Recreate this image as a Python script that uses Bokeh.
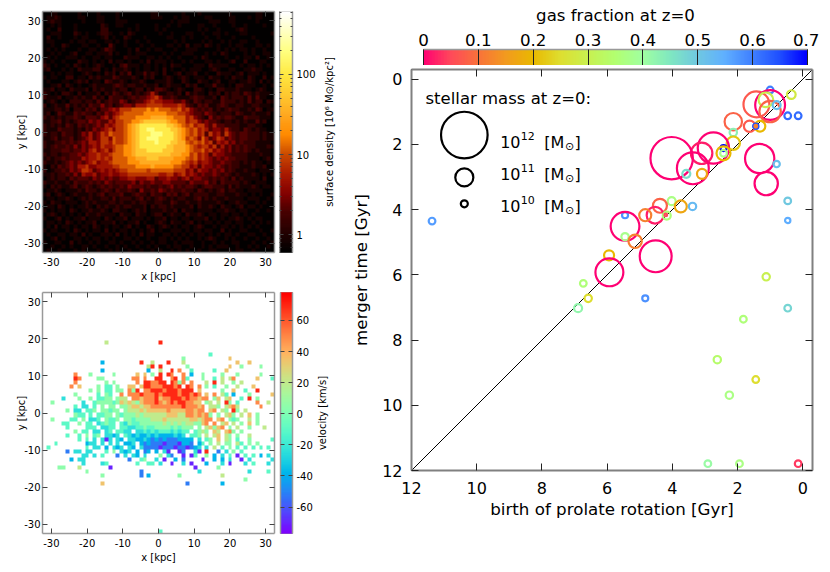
import numpy as np
from bokeh.plotting import figure
from bokeh.layouts import row, column
from bokeh.models import (Range1d, LinearAxis, LogAxis, FixedTicker, LinearColorMapper, LogColorMapper,
                          ColumnDataSource)
from bokeh.core.properties import value
from bokeh.embed import file_html
from bokeh.resources import INLINE

FONT = "DejaVu Sans"

# ---- data: surface density map (top row first; one code per cell) ----
DENSITY_LEVELS = [0.62, 0.9, 1.4, 2.1, 3.2, 5, 8, 12, 20, 33, 55, 110, 200]
DENSITY_ROWS = [
"001100000100001000010000000011000000100010000000100000011000",
"011210000110001100010000000011100010110000110000110001011000",
"012110000010001100011100000000000101110000011100110000010000",
"001010001000000210011000100001001001000011001000010010000100",
"010020001000000220000010100001010000000010100100001210000000",
"001110002101001221001021000000100100011001001101000110000001",
"020010001011000120100210001000001100101000100100010000100000",
"011000010110110011010100100100000010100001010010100110010000",
"001002100011001003100100010010001101020110210100101100011010",
"010101000100110132100010200101100010011100000101010110100100",
"001010012001101112010010111000010100111000101021000010100110",
"010100111010011011000211100110101001000102100001001011020010",
"101001000211010102011010010201110100101000110100120020001100",
"210100102101012100102311101101010211000111021111000101101010",
"120001010211122010211210101101020100101110012100110011211000",
"001010110012101021202130113121020012011200100211101201110100",
"101100220110212111321112102120012101210111021101021102100201",
"010001101212011032112101121001112100210021101200110112102010",
"001120210100121111232122112112012111021200113110102211100101",
"112011021112021211212201220213321012100221010221112111012100",
"210102210201112021321231212353112212031211021202122132121110",
"211120112121131203222123233456422321112322112032122213131100",
"012101022212213123224312334565544433421321221132221213122021",
"201211312121322423123443555666655556532132311232112211221110",
"1112212022132313" "3454" "6667777878777667" "5643232312123221" "12132011",
"1201321132322132" "4345" "6777778888887776" "6543324321222132" "11211120",
"2121212232133324" "5356" "7777888899998877" "7564321423233211" "32221110",
"1122312123324343" "3546" "677889aaaaaa9887" "7566434332122121" "21131200",
"2121213213232343" "5456" "6789abbbbbbbaa98" "7675664353322221" "12211000",
"2111322212132434" "5646" "6789abbccbbbbaa9" "8767565344353221" "32121100",
"2122132212435346" "5766" "6789abbbcccbbba9" "8767563645364323" "32221211",
"1123122312345346" "6476" "6789abbcccbbbba9" "8676475346534323" "32221211",
"2112232323435546" "6576" "6789abbbbcbbbaa9" "9767675635453423" "22211110",
"2123223242434546" "5567" "7889abbbbbbbaa99" "9876566463534232" "32211121",
"1122233233435645" "6467" "7889aaabbbbaaa99" "9876675645434232" "32121110",
"2122122334345565" "5677" "7889aaaaaaaaa999" "8867565354433222" "21112110",
"1212232333545565" "6577" "7788999aaa999988" "8767565434343322" "21110120",
"2112123434345645" "5677" "7788899999999888" "7656455433433221" "21211010",
"1021323435564455" "5566" "7777888898888877" "6645354434323221" "11211200",
"2012232434665345" "4545" "6677777677777766" "6453544343423211" "21101110",
"1121223242544534" "4544" "5566666666556645" "6454343343232121" "11210101",
"0121221323332434" "3433" "4455444553445443" "4534433232321312" "11110200",
"2112112132223232" "4323" "3334243343344333" "3243334231322221" "21011100",
"1021211231232123" "2322" "3243332322323423" "2332123322213121" "11210110",
"0112101112132212" "3213" "2232142232432322" "3221321212312211" "01111000",
"1201210121112123" "1222" "3112322132213231" "2312222112211121" "10101001",
"0110112101212112" "2131" "2221231212321212" "2112312121121111" "01110010",
"1021101110121211" "1221" "2112122112211321" "1211211112101121" "10010100",
"0110210101121021" "2112" "1221112021221211" "1120211210211012" "01101000",
"1010110210112112" "1022" "1101212011121120" "2110111101121101" "10010010",
"0121010101021121" "1110" "2110211012201211" "0211210110110110" "10100000",
"1001201011201110" "2101" "1201110101120110" "1101112010101121" "01011000",
"0110102101011201" "1120" "1011201001210211" "0120101101011011" "00101010",
"0102011010110210" "1011" "0120100210121010" "1101210010110101" "01010000",
"1011001021010110" "2010" "1101010120100111" "0101101100201001" "10001001",
"0100110110201001" "1102" "0101020110011010" "1010110101011010" "01100100",
"0012010011010110" "1010" "0110100100110101" "0100101210010100" "10010010",
"1001100201001010" "0110" "1001010010110010" "1110010010100110" "00100101",
"0010010100110100" "1001" "0100100101001011" "0010010101110010" "01010010",
"0100100010100010" "0101" "0010010010100101" "0100100110001011" "00100000",
]

# ---- data: velocity map (top row first; '.' = empty cell) ----
VELOCITY_LEVELS = [-70, -52, -38, -24, -10, 5, 20, 35, 50, 70]
VELOCITY_ROWS = {
12: "................6.............9",
15: "...........................................4",
16: "....................................5...........7",
17: "...............2.........9..6...9...6.............7..7",
18: "...........................69.9......5..........7..5....5",
19: "...............2...........2..6..9.8..4.....4..7...........",
20: "........8...5.....5.....7.7.5.9.98..8.2..5....5...5.....5..",
21: "........98....55.......88.8..99..89.84...5..4.6.68.....7...4",
22: "........8.......5.5.....8.998899.9858.8...6.9.6..5.6........",
23: ".......8.7....5.44.5..77.79988899989.98.8.5.4..5..6...7...",
24: "............5.5.44.55.859.8899989998999.7.....5..7..4..9....",
25: "........5.....4.54..8.8889888989999899898.7.8.64.2...5.....7",
26: ".....3...5..5.4455.566.88788897889998988788.57.67..4.9.5.....",
27: "..5.......3..4555545767657888987898998877.56.6.95.4....8..6...",
28: "........4.33.4.5.55.5567767788888888988878.665.6786.....8....",
29: "......5.33.445.55455.566676777778777788788.78.65.95.6........",
30: "........544.4.4455.5455565666666777668878785.5.675.6.7.5.....",
31: "..5....44.5.334.5445.55455556667666666776788.78.545..6.5.....",
32: ".....44..5.44.34544.43544555555656565665578.8.67.6.5.7.5.....",
33: "......4....444.3344.4433445445555454555.5.67578.5.6..5...6...",
34: "........5.44.33.34.4433.33434344434344.4565.76.785.5........",
35: "......4..4.5.45.3323.4323223232222323.445.6.67.65.5..6......",
36: ".........4.4.3.303.32.33223212121112222.3.45.7.65.4..5.....4.",
37: "...4.......233.3.3.3.223.21211101110221.24.5.6.55.64.5.5.....",
38: ".4.........4.33.2.323.32.3111101110110123.3.6.4.5.4.4.4.4.4..",
39: "......1.33.33...4.5.323.2.12.2.30..01..30.9..1.3.5.4....",
40: "..........33.3.4...1.3.32.3...5.31..0.04..5.2.3.4.0.4.4.2.3...",
41: ".......2.33...........1..45..3.0..2.1....0..2.2.3..0.3.....3.",
42: "..........3....34.......4..44.3..0..3.0...2...3.0...3.4...3...",
43: "....55...6.......0.....................0.....5",
44: "...........5.............1..............3............3....4",
45: "...............5.........1.2.......5..........6",
46: "....................................................5",
47: "...............7.....................1........2",
59: "..............................4",
}

# ---- data: galaxies of the right panel ----
birth = [1.00, 0.35, 1.42, 1.00, 1.13, 1.00, 0.80, 0.46, 0.14, 2.13, 1.63, 1.31, 1.44, 1.44, 2.13, 2.13, 2.74, 3.10,
         2.43, 2.43, 2.43, 4.02, 3.37, 3.57, 3.09, 1.32, 0.80, 1.12, 0.46, 0.46, 11.37, 4.02, 4.38, 3.74, 3.38, 4.53,
         4.83, 4.17, 4.20, 5.45, 5.45, 5.45, 5.14, 4.51, 5.94, 5.93, 1.12, 6.73, 6.58, 4.83, 6.89, 0.46, 1.82, 2.62,
         1.44, 2.25, 2.91, 1.94, 0.14]
merger = [0.33, 0.47, 0.77, 0.79, 0.63, 0.99, 0.79, 1.12, 1.12, 1.30, 1.44, 1.44, 1.44, 1.44, 1.63, 1.96, 2.11, 2.27,
          2.11, 2.27, 2.27, 2.42, 2.73, 2.90, 2.90, 2.43, 2.60, 3.20, 3.73, 4.33, 4.35, 3.74, 3.88, 3.90, 3.90, 4.17,
          4.17, 4.18, 4.16, 4.17, 4.51, 4.83, 4.97, 5.43, 5.40, 5.92, 6.06, 6.26, 6.72, 6.72, 7.02, 7.02, 7.36, 8.60,
          9.21, 9.69, 11.79, 11.79, 11.79]
log_mass = [9.95, 10.23, 11.38, 11.53, 10.78, 11.18, 10.14, 9.95, 9.95, 10.96, 10.51, 10.44, 9.71, 8.98, 10.05, 10.68,
            11.58, 11.18, 9.84, 9.95, 10.73, 11.90, 11.60, 10.14, 10.38, 11.51, 9.90, 11.27, 9.95, 9.71, 9.95, 10.14,
            10.73, 10.57, 10.05, 10.92, 10.57, 10.14, 9.00, 9.84, 11.49, 10.05, 10.68, 11.60, 10.38, 11.46, 10.05,
            9.95, 10.05, 9.84, 10.14, 9.95, 9.95, 10.05, 9.95, 10.05, 9.95, 9.95, 9.95]
gas = [0.60, 0.28, 0.07, 0.00, 0.30, 0.08, 0.52, 0.62, 0.62, 0.08, 0.07, 0.20, 0.65, 0.12, 0.43, 0.22, 0.00, 0.02,
       0.70, 0.38, 0.20, 0.00, 0.00, 0.47, 0.17, 0.00, 0.52, 0.00, 0.50, 0.55, 0.57, 0.37, 0.08, 0.17, 0.53, 0.02,
       0.12, 0.36, 0.05, 0.58, 0.00, 0.38, 0.12, 0.00, 0.20, 0.00, 0.30, 0.36, 0.25, 0.58, 0.42, 0.48, 0.36, 0.34,
       0.25, 0.37, 0.41, 0.37, 0.04]
legend_log_mass = [12, 11, 10]

kpc_ticks = [-30, -20, -10, 0, 10, 20, 30]
gyr_ticks = [0, 2, 4, 6, 8, 10, 12]
gas_ticks = [0, 0.1, 0.2, 0.3, 0.4, 0.5, 0.6, 0.7]
velocity_ticks = [-60, -40, -20, 0, 20, 40, 60]
density_ticks = [1, 10, 100]
density_minor = [0.7, 0.8, 0.9, 2, 3, 4, 5, 6, 7, 8, 9, 20, 30, 40, 50, 60, 70, 80, 90, 200, 300, 400, 500, 600]

# ---- colour scales ----
def hex_rgb(h):
    return [int(h[i:i+2], 16) for i in (1, 3, 5)]

def make_palette(pos, cols, n=256):
    arr = np.array([hex_rgb(c) for c in cols], float)
    t = np.linspace(pos[0], pos[-1], n)
    out = np.stack([np.interp(t, pos, arr[:, i]) for i in range(3)], 1).round().astype(int)
    return ["#%02x%02x%02x" % tuple(c) for c in out]

DENS_LOW, DENS_HIGH = 0.6, 610
dens_palette = make_palette(
    [-0.222, 0.0, 0.3, 0.5, 0.75, 1.0, 1.25, 1.5, 2.0, 2.3, 2.785],
    ["#000000", "#200000", "#4a0000", "#800000", "#a81800", "#c84800", "#ff8a00", "#ffa820", "#ffe840", "#ffff80", "#ffffff"])
VEL_LOW, VEL_HIGH = -77, 78
_t = np.linspace(0, 1, 256)
vel_palette = ["#%02x%02x%02x" % (min(255, int(255*abs(2*x-0.5))), int(255*np.sin(np.pi*x)), int(255*max(0, np.cos(np.pi*x/2))))
               for x in _t]
gas_palette = make_palette(
    [0, .05, .1, .15, .2, .25, .3, .35, .4, .45, .5, .55, .6, .65, .7],
    ["#ff0073", "#ff4a5a", "#f9723a", "#f29a1f", "#e9b800", "#dede30", "#c8f050", "#b2ff70", "#a0ffa0",
     "#80e8c0", "#70c8e0", "#60b0ff", "#4080ff", "#2050ff", "#0000ff"])

# ---- style helpers ----
def style_axis(ax, tick_len=5, label_px="10px", line="#999999", tick="#444444", line_w=1.5):
    ax.axis_line_color = line
    ax.axis_line_width = line_w
    ax.major_tick_line_color = tick
    ax.major_tick_in = tick_len
    ax.major_tick_out = 0
    ax.minor_tick_line_color = None
    ax.major_label_text_font = FONT
    ax.major_label_text_font_size = label_px
    ax.major_label_text_color = "#000000"
    ax.axis_label_text_font = FONT
    ax.axis_label_text_font_style = "normal"
    ax.axis_label_text_color = "#000000"

def mute_axis(ax):
    ax.major_label_text_font_size = "1px"
    ax.major_label_text_color = None
    ax.major_label_standoff = 0
    ax.axis_label = None

def base_fig(w, h, top, bottom, left, right, xr, yr, **kw):
    return figure(frame_width=w, frame_height=h, width=w + left + right, height=h + top + bottom,
                  min_border_top=top, min_border_bottom=bottom, min_border_left=left, min_border_right=right,
                  x_range=xr, y_range=yr, output_backend="svg", toolbar_location=None, frame_align=False,
                  background_fill_color="white", outline_line_color=None, tools="", **kw)

HYPHEN = {t: str(t) for t in kpc_ticks}

def map_panel(top, bottom, xlabel="x [kpc]", ylabel="y [kpc]", tick_len=5):
    p = base_fig(232, 241, top, bottom, 42, 5, Range1d(-32.5, 32.5), Range1d(-32.5, 32.5))
    p.grid.visible = False
    ticker = FixedTicker(ticks=kpc_ticks)
    for ax in (p.xaxis[0], p.yaxis[0]):
        style_axis(ax, tick_len)
        ax.ticker = ticker
        ax.major_label_overrides = HYPHEN
        ax.axis_label_text_font_size = "10px"
        ax.major_label_standoff = 2
    p.xaxis[0].major_label_standoff = 5
    p.xaxis[0].axis_label = xlabel
    p.yaxis[0].axis_label = ylabel
    p.xaxis[0].axis_label_standoff = 2
    p.yaxis[0].axis_label_standoff = -6
    for side in ("right", "above"):
        a = LinearAxis(ticker=ticker)
        style_axis(a, tick_len)
        mute_axis(a)
        p.add_layout(a, side)
    return p

def label_strip(text, width, top, bottom, x_pos):
    """A narrow plot that only holds a colour bar's rotated caption."""
    f = base_fig(width, 241, top, bottom, 0, 0, Range1d(0, width), Range1d(0, 241), x_axis_location=None, y_axis_location=None)
    f.grid.visible = False
    f.text(x=[x_pos], y=[120.5], text=[text], angle=np.pi / 2, text_align="center", text_baseline="middle",
           text_font=value(FONT), text_font_size="10px", text_color="#000000")
    return f

# ---- density map ----
dens = np.array([[DENSITY_LEVELS[int(ch, 16)] for ch in r.ljust(60, "0")[:60]] for r in DENSITY_ROWS], float)
p1 = map_panel(11, 33)
p1.image(image=[dens[::-1]], x=-32.5, y=-32.5, dw=65, dh=65,
         color_mapper=LogColorMapper(palette=dens_palette, low=DENS_LOW, high=DENS_HIGH))

# ---- velocity map ----
vel = np.full((60, 60), np.nan)
for r, s in VELOCITY_ROWS.items():
    for c, ch in enumerate(s[:60]):
        if ch != ".":
            vel[r, c] = VELOCITY_LEVELS[int(ch)]
p2 = map_panel(7, 30)
p2.image(image=[vel[::-1]], x=-32.5, y=-32.5, dw=65, dh=65,
         color_mapper=LinearColorMapper(palette=vel_palette, low=VEL_LOW, high=VEL_HIGH, nan_color="#ffffff"))

# ---- density colour bar ----
c1 = base_fig(13, 241, 11, 33, 0, 24, Range1d(0, 1), Range1d(DENS_LOW, DENS_HIGH), y_axis_type="log",
              y_axis_location="right", x_axis_location=None)
c1.grid.visible = False
c1.outline_line_color = "#999999"
edges = np.geomspace(DENS_LOW, DENS_HIGH, len(dens_palette) + 1)
c1.quad(left=0, right=1, bottom=edges[:-1], top=edges[1:], fill_color=dens_palette, line_color=dens_palette)
ticker1 = FixedTicker(ticks=density_ticks, minor_ticks=density_minor)
axr = c1.yaxis[0]
style_axis(axr, 4)
axr.ticker = ticker1
axr.major_label_overrides = {1: "1", 10: "10", 100: "100"}
axr.minor_tick_line_color = "#444444"
axr.minor_tick_in = 2
axr.minor_tick_out = 0
axr.major_label_standoff = 4
axl = LogAxis(ticker=ticker1)
style_axis(axl, 4)
mute_axis(axl)
axl.minor_tick_line_color = "#444444"
axl.minor_tick_in = 2
axl.minor_tick_out = 0
c1.add_layout(axl, "left")
t1 = label_strip("surface density [10\u2076 M\u2299/kpc\u00b2]", 29, 11, 33, 11)

# ---- velocity colour bar ----
c2 = base_fig(12, 241, 7, 30, 1, 21, Range1d(0, 1), Range1d(VEL_LOW, VEL_HIGH),
              y_axis_location="right", x_axis_location=None)
c2.grid.visible = False
c2.outline_line_color = "#999999"
edges = np.linspace(VEL_LOW, VEL_HIGH, len(vel_palette) + 1)
c2.quad(left=0, right=1, bottom=edges[:-1], top=edges[1:], fill_color=vel_palette, line_color=vel_palette)
ticker2 = FixedTicker(ticks=velocity_ticks)
axr = c2.yaxis[0]
style_axis(axr, 4)
axr.ticker = ticker2
axr.major_label_overrides = {t: str(t) for t in velocity_ticks}
axr.major_label_standoff = 4
axl = LinearAxis(ticker=ticker2)
style_axis(axl, 4)
mute_axis(axl)
c2.add_layout(axl, "left")
t2 = label_strip("velocity [km/s]", 32, 7, 30, 7)

# ---- gas fraction colour bar ----
c3 = base_fig(384, 16, 49, 0, 76, 12, Range1d(0, 0.7), Range1d(0, 1), x_axis_location="above", y_axis_location=None)
c3.grid.visible = False
c3.outline_line_color = "#808080"
edges = np.linspace(0, 0.7, len(gas_palette) + 1)
c3.quad(left=edges[:-1], right=edges[1:], bottom=0, top=1, fill_color=gas_palette, line_color=gas_palette)
axt = c3.xaxis[0]
style_axis(axt, 16, "16.7px", tick="#222222")
axt.ticker = FixedTicker(ticks=gas_ticks)
axt.major_label_overrides = {0: "0"}
axt.major_label_standoff = 4
axt.axis_label = "gas fraction at z=0"
axt.axis_label_text_font_size = "16.6px"
axt.axis_label_standoff = 6

# ---- main panel ----
main = base_fig(401, 401, 4, 85, 64, 7, Range1d(12, -0.3), Range1d(12, -0.3))
main.grid.visible = False
tick = FixedTicker(ticks=gyr_ticks)
for ax, lab in ((main.xaxis[0], "birth of prolate rotation [Gyr]"), (main.yaxis[0], "merger time [Gyr]")):
    style_axis(ax, 7, "16px", line="#808080", tick="#222222", line_w=2)
    ax.ticker = tick
    ax.axis_label = lab
    ax.axis_label_text_font_size = "16.7px"
main.xaxis[0].major_label_standoff = 11
main.yaxis[0].major_label_standoff = 9
main.xaxis[0].axis_label_standoff = 2
main.yaxis[0].axis_label_standoff = 8
for side in ("right", "above"):
    a = LinearAxis(ticker=tick)
    style_axis(a, 7, line="#808080", tick="#222222", line_w=2)
    mute_axis(a)
    main.add_layout(a, side)

main.line([12, -0.3], [12, -0.3], line_color="#000000", line_width=1)

def diameter(lm):
    return 7 * 2.58 ** (np.asarray(lm, float) - 10)

src = ColumnDataSource(dict(x=birth, y=merger, gas=gas, d=diameter(log_mass)))
gas_mapper = LinearColorMapper(palette=gas_palette, low=0, high=0.7)
main.scatter("x", "y", source=src, size="d", marker="circle", fill_color=None, line_width=2.2,
             line_color={"field": "gas", "transform": gas_mapper})

# legend of the main panel
main.text(x=[11.57], y=[0.60], text=["stellar mass at z=0:"], text_font=value(FONT), text_font_size="16.5px",
          text_baseline="middle", text_color="#000000")
LEG_X, LEG_Y = 10.38, [1.71, 3.01, 3.82]
main.scatter([LEG_X] * 3, LEG_Y, size=diameter(legend_log_mass), marker="circle", fill_color=None,
             line_color="#000000", line_width=2.2)
TXT_Y = [1.93, 2.91, 3.90]
for yy, lm in zip(TXT_Y, legend_log_mass):
    for xx, dy, txt, fs in ((9.28, 0, "10", "16px"), (8.65, -0.19, str(lm), "11px"), (7.93, 0, "[M", "16px"),
                            (7.29, 0.13, "\u2299", "11px"), (7.00, 0, "]", "16px")):
        main.text(x=[xx], y=[yy + dy], text=[txt], text_font=value(FONT), text_font_size=fs,
                  text_baseline="middle", text_color="#000000")

layout = row(column(row(p1, c1, t1), row(p2, c2, t2)), column(c3, main))
open("out.html", "w").write(file_html(layout, INLINE))
